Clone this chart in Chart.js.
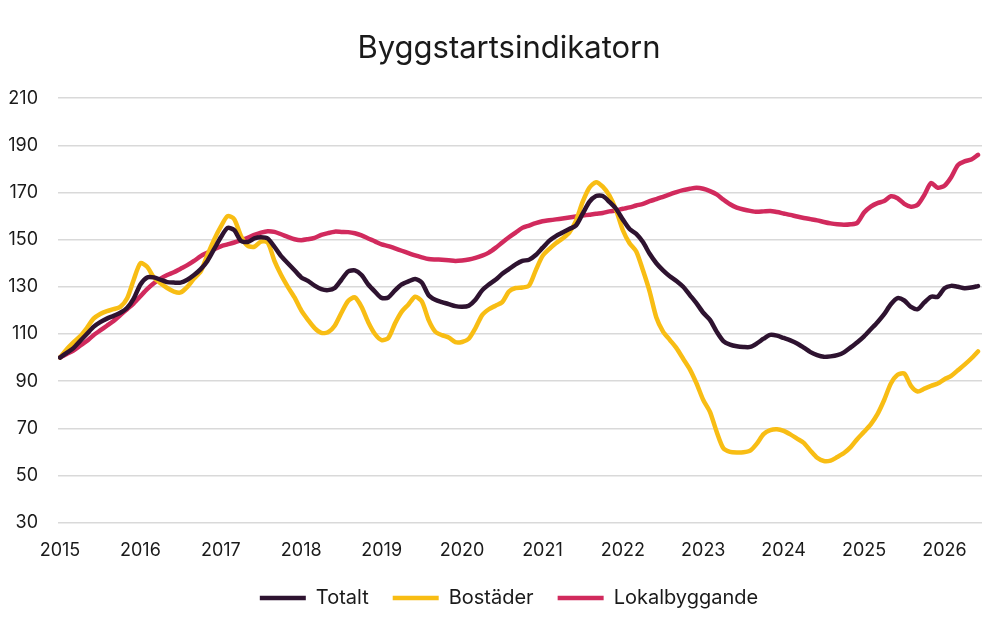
<!DOCTYPE html>
<html>
<head>
<meta charset="utf-8">
<script src="https://cdn.jsdelivr.net/npm/chart.js@4.4.1/dist/chart.umd.min.js"></script>
<style>
html,body{margin:0;padding:0;background:#fff;}
#wrap{width:1000px;height:625px;position:relative;}
</style>
</head>
<body>
<div id="wrap"><canvas id="c" width="1000" height="625"></canvas></div>
<script>
// Monthly index values, Jan 2015 = 100 (Jan 2015 ... Jun 2026)
const yearLabels = ['2015','2016','2017','2018','2019','2020','2021','2022','2023','2024','2025','2026'];
const yTicks = [30,50,70,90,110,130,150,170,190,210];

const totalt = [
100,102,104,107,110,113,115,116.5,117.7,119,121,125,
131,134,134,133,132,131.8,131.8,133,135,137.5,141,146,
151,155,154,149.5,149,150.5,151,150.5,147,143,140,137,
134,132.5,130.5,129,128.6,129.5,133,136.5,137,135,131,128,
125.3,125.5,128.5,131,132.3,133.3,131.8,126.5,124.5,123.5,122.7,121.8,
121.5,122,124.5,128.5,131,133,135.5,137.5,139.5,141,141.5,143.5,
146.5,149.5,151.5,153,154.5,156,161,166,168.5,168.5,166,163,
158.5,154.5,152.5,149,144,140,137,134.5,132.5,130,126.5,123,
119,116,111,107,105.5,104.8,104.5,104.5,106,108,109.6,109.3,
108.3,107.3,106,104.2,102.3,101,100.3,100.5,101,102.2,104.3,106.5,
109,112,115,118.4,122.6,125.2,124.2,121.5,120.5,123.4,125.8,125.8,
129.4,130.4,130,129.4,129.7,130.3
];

const bostader = [
100,103.5,106.4,109,112.5,116.5,118.5,119.7,120.5,121.5,125,133,
140,138.5,134,131.5,129.5,128,127.6,130,133.5,136.5,143.5,150,
155.5,160,158.7,151.6,147.4,147,149.2,148.8,141,135,130,125.5,
120,116,112.5,110.5,110.7,113.5,119,124,125.5,121.5,115,110,
107.4,108.3,114.5,119.5,122.5,125.8,123.8,116,111,109.5,108.5,106.5,
106.6,108,112.5,118,120.5,122,123.5,128,129.5,129.7,130.5,137,
143,146,148.5,150.5,153,158,166,172,174.4,172.5,168.7,162.5,
154,148.5,145,137,128,117,111,107.5,104,99.5,95,89,
82,77,68.5,61.5,60,59.7,59.8,60.5,63.5,67.5,69.2,69.6,
68.9,67.4,65.6,63.8,60.5,57.5,56.1,56.3,57.8,59.5,62,65.5,
68.5,71.7,76,82,89,92.7,93.2,88,85.6,86.8,88,89,
90.8,92.2,94.6,97,99.6,102.6
];

const lokal = [
100,101.5,103,105,107,109.5,111.5,113.5,115.5,118,120.5,123,
126,129,131.5,133.5,135,136.2,137.7,139.2,141,143,144.5,146,
147.2,148,148.8,149.8,150.8,152,153,153.6,153.3,152.3,151.2,150.2,
149.8,150.2,150.8,152,152.8,153.4,153.3,153.2,152.7,151.8,150.5,149.3,
148,147.3,146.3,145.3,144.3,143.3,142.5,141.8,141.6,141.5,141.3,141,
141.2,141.6,142.3,143.2,144.5,146.5,148.8,151,153,155,156,157,
157.8,158.2,158.6,159,159.4,159.8,160.2,160.6,161,161.3,162,162.4,
163.1,163.7,164.5,165.2,166.3,167.2,168.2,169.2,170.2,171,171.6,172,
171.6,170.6,169.2,167,165,163.6,162.8,162.2,161.8,162,162.2,161.7,
161.1,160.5,159.8,159.2,158.7,158.2,157.5,156.9,156.5,156.3,156.5,157.2,
161.5,164,165.5,166.4,168.4,167.6,165.2,164,164.8,169,174,172,
172.9,176.5,181.6,183.2,184,186
];

const seriesNames = ['Totalt','Bostäder','Lokalbyggande'];
const seriesColors = ['#2e1330','#f8bd14','#d12a5d'];
const seriesValues = [totalt, bostader, lokal];

function toPoints(arr){ return arr.map((v,i)=>({x:i, y:v})); }

const datasets = seriesValues.map((vals, k) => ({
  label: seriesNames[k],
  data: toPoints(vals),
  borderColor: seriesColors[k],
  backgroundColor: seriesColors[k],
  borderWidth: 4.5,
  borderCapStyle: 'round',
  borderJoinStyle: 'round',
  pointRadius: 0,
  pointHoverRadius: 0,
  tension: 0.25,
  fill: false,
  pointStyle: 'line'
}));

const font = "Inter, 'DejaVu Sans', sans-serif";

// shift title and legend blocks so they are centred like the reference
const centerShift = {
  id: 'centerShift',
  afterLayout(chart) {
    [chart.titleBlock, chart.legend].forEach(b => {
      if (b) { b.left = 36; b.right = 982; b.width = 946; }
    });
  }
};

new Chart(document.getElementById('c'), {
  type: 'line',
  data: { datasets },
  plugins: [centerShift],
  options: {
    responsive: false,
    animation: false,
    devicePixelRatio: 1,
    layout: { padding: { left: 0, right: 18, top: 0, bottom: 7 } },
    plugins: {
      title: {
        display: true,
        text: 'Byggstartsindikatorn',
        color: '#1a1a1a',
        font: { family: font, size: 31, weight: 'normal' },
        padding: { top: 30, bottom: 31 }
      },
      legend: {
        position: 'bottom',
        labels: {
          usePointStyle: true,
          pointStyle: 'line',
          pointStyleWidth: 46,
          boxHeight: 5,
          color: '#1a1a1a',
          font: { family: font, size: 20 },
          padding: 24
        }
      },
      tooltip: { enabled: false }
    },
    scales: {
      x: {
        type: 'linear',
        min: -0.3,
        max: 137.6,
        grid: { display: false },
        border: { display: false },
        afterBuildTicks: (scale) => {
          scale.ticks = yearLabels.map((_, i) => ({ value: i * 12 }));
        },
        afterFit: (s) => { s.paddingLeft = 0; s.paddingRight = 0; s.height = 41.4; },
        ticks: {
          autoSkip: false,
          maxRotation: 0,
          padding: 9,
          color: '#1a1a1a',
          font: { family: font, size: 18 },
          callback: (v) => yearLabels[Math.round(v / 12)] ?? ''
        }
      },
      y: {
        min: 30,
        max: 210,
        afterBuildTicks: (scale) => {
          scale.ticks = yTicks.map(v => ({ value: v }));
        },
        afterFit: (s) => { s.width = 58; },
        grid: { color: '#d9d9d9', lineWidth: 1.5, drawTicks: false },
        border: { display: false },
        ticks: {
          padding: 20,
          color: '#1a1a1a',
          font: { family: font, size: 18 }
        }
      }
    }
  }
});
</script>
</body>
</html>
